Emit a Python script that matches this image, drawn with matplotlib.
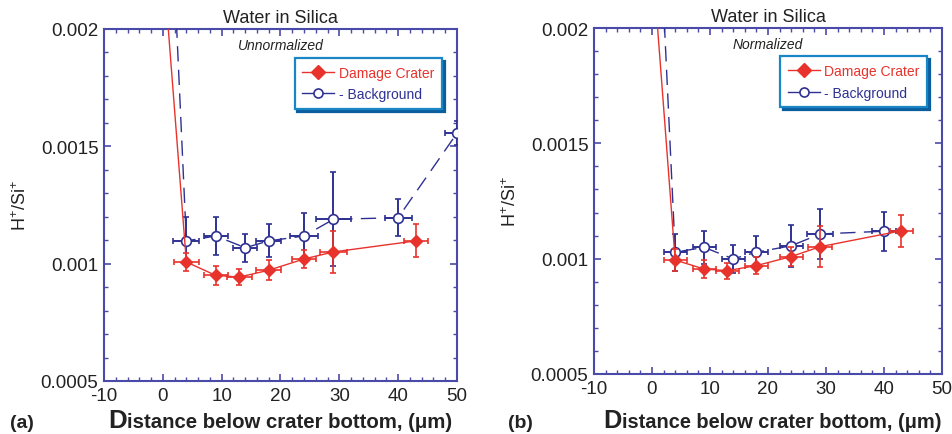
import matplotlib
matplotlib.use("Agg")
import matplotlib.pyplot as plt
from matplotlib.ticker import MultipleLocator, FixedLocator

plt.rcParams['font.family'] = ['Liberation Sans', 'DejaVu Sans']
plt.rcParams['mathtext.fontset'] = 'custom'
plt.rcParams['mathtext.rm'] = 'Liberation Sans'
plt.rcParams['axes.unicode_minus'] = False

RED = '#e8322c'
BLUE = '#2e3192'
SPINE = '#4a4aa8'
FRAME = '#1a86c6'
SHADOW = '#0b5e9e'

# ---- (a) unnormalized ----
crater_x_a = [0, 4, 9, 13, 18, 24, 29, 43]
crater_y_a = [0.00230, 0.001007, 0.00095, 0.000943, 0.000972, 0.00102, 0.00105, 0.001097]
crater_xerr_a = [0, 2.1, 2.0, 2.1, 2.1, 2.1, 2.3, 2.0]
crater_yerr_a = [0, 0.00004, 0.00004, 0.000033, 0.000043, 0.00004, 0.00009, 0.00007]

bg_x_a = [0, 4, 9, 14, 18, 24, 29, 40, 50]
bg_y_a = [0.00330, 0.001097, 0.001118, 0.001068, 0.001097, 0.001118, 0.001189, 0.001196, 0.001556]
bg_xerr_a = [0, 2.2, 2.0, 2.0, 2.1, 2.4, 2.9, 2.3, 2.0]
bg_yerr_a = [0, 0.0001, 0.00008, 0.00006, 0.00007, 0.0001, 0.0002, 0.00008, 0.00005]

# ---- (b) normalized ----
crater_x_b = [0, 4, 9, 13, 18, 24, 29, 43]
crater_y_b = [0.00232, 0.000994, 0.000955, 0.000948, 0.00097, 0.001009, 0.001052, 0.001121]
crater_xerr_b = [0, 2.0, 2.0, 2.0, 2.0, 2.0, 2.1, 2.0]
crater_yerr_b = [0, 0.000047, 0.00004, 0.000035, 0.000038, 0.00004, 0.00009, 0.00007]

bg_x_b = [0, 4, 9, 14, 18, 24, 29, 40]
bg_y_b = [0.00315, 0.001028, 0.001049, 0.000999, 0.001028, 0.001056, 0.001107, 0.001119]
bg_xerr_b = [0, 2.0, 2.0, 2.0, 2.0, 2.0, 2.2, 2.0]
bg_yerr_b = [0, 0.00008, 0.00007, 0.00006, 0.00007, 0.00009, 0.00011, 0.000085]

x_ticks = [-10, 0, 10, 20, 30, 40, 50]
y_ticks = [0.0005, 0.001, 0.0015, 0.002]
y_ticklabels = ['0.0005', '0.001', '0.0015', '0.002']

fig = plt.figure(figsize=(9.53, 4.35), dpi=100)
W, H = 953, 435


def px_axes(l, t, r, b):
    return fig.add_axes([l / W, 1 - b / H, (r - l) / W, (b - t) / H])


def panel(ax, cx, cy, cxe, cye, bx, by, bxe, bye, subtitle):
    ax.errorbar(bx, by, xerr=bxe, yerr=bye, color=BLUE, lw=1.0,
                dashes=(11, 6), marker='o', ms=7, mfc='white', mec=BLUE,
                mew=1.2, elinewidth=1.4, capsize=2.5, capthick=1.4, zorder=3)
    ax.errorbar(cx, cy, xerr=cxe, yerr=cye, color=RED, lw=1.0,
                marker='D', ms=6.5, mfc=RED, mec=RED, ecolor=RED,
                elinewidth=1.2, capsize=2.5, capthick=1.2, zorder=4)
    ax.set_xlim(-10, 50)
    ax.set_ylim(0.0005, 0.002)
    ax.xaxis.set_major_locator(FixedLocator(x_ticks))
    ax.xaxis.set_minor_locator(MultipleLocator(2))
    ax.yaxis.set_major_locator(FixedLocator(y_ticks))
    ax.set_yticklabels(y_ticklabels)
    ax.yaxis.set_minor_locator(MultipleLocator(0.0001))
    ax.tick_params(which='both', direction='in', top=True, right=True,
                   color=SPINE, labelsize=13.5, labelcolor='#222222', pad=4)
    ax.tick_params(which='major', length=5, width=1.2)
    ax.tick_params(which='minor', length=3, width=1.0)
    for s in ax.spines.values():
        s.set_color(SPINE)
        s.set_linewidth(1.5)
    ax.set_title('Water in Silica', fontsize=13, color='#222222', pad=5)
    ax.text(0.5, 0.955, subtitle, transform=ax.transAxes, ha='center',
            va='center', style='italic', fontsize=10, color='#222222')
    ax.set_ylabel(r'H$^{+}$/Si$^{+}$', fontsize=13, color='#222222', labelpad=8)

    h1, = ax.plot([], [], color=RED, lw=1.0, marker='D', ms=7.5, mfc=RED, mec=RED)
    h2, = ax.plot([], [], color=BLUE, lw=1.0, marker='o', ms=6.5, mfc='white',
                  mec=BLUE, mew=1.2)
    leg = ax.legend([h1, h2], ['Damage Crater', '- Background'],
                    loc='upper right', bbox_to_anchor=(0.958, 0.918),
                    fontsize=10, frameon=True, fancybox=False,
                    shadow={'color': SHADOW, 'alpha': 1.0, 'ox': 2, 'oy': -2},
                    handlelength=2.3, handletextpad=0.35, borderpad=0.55,
                    labelspacing=0.55, borderaxespad=0)
    leg.get_frame().set_edgecolor(FRAME)
    leg.get_frame().set_linewidth(1.6)
    leg.get_texts()[0].set_color(RED)
    leg.get_texts()[1].set_color(BLUE)


ax_a = px_axes(104, 30, 457, 382)
panel(ax_a, crater_x_a, crater_y_a, crater_xerr_a, crater_yerr_a,
      bg_x_a, bg_y_a, bg_xerr_a, bg_yerr_a, 'Unnormalized')

ax_b = px_axes(594, 29, 942, 375)
panel(ax_b, crater_x_b, crater_y_b, crater_xerr_b, crater_yerr_b,
      bg_x_b, bg_y_b, bg_xerr_b, bg_yerr_b, 'Normalized')

# Panel letters and x-axis titles with an enlarged first letter
fig.canvas.draw()
renderer = fig.canvas.get_renderer()


def xtitle(x0, base_y, size):
    d = fig.text(x0 / W, 1 - base_y / H, 'D', fontsize=size * 1.27,
                 fontweight='bold', color='#222222', ha='left', va='baseline')
    fig.canvas.draw()
    bb = d.get_window_extent(renderer)
    fig.text(bb.x1 / W + 0.0005, 1 - base_y / H, 'istance below crater bottom, (μm)',
             fontsize=size, fontweight='bold', color='#222222', ha='left',
             va='baseline')


fig.text(10 / W, 1 - 428 / H, '(a)', fontsize=14, fontweight='bold',
         color='#222222', ha='left', va='baseline')
fig.text(508 / W, 1 - 428 / H, '(b)', fontsize=14, fontweight='bold',
         color='#222222', ha='left', va='baseline')
xtitle(108, 428, 14.7)
xtitle(603, 428, 14.4)

fig.savefig('out.png', dpi=100)
